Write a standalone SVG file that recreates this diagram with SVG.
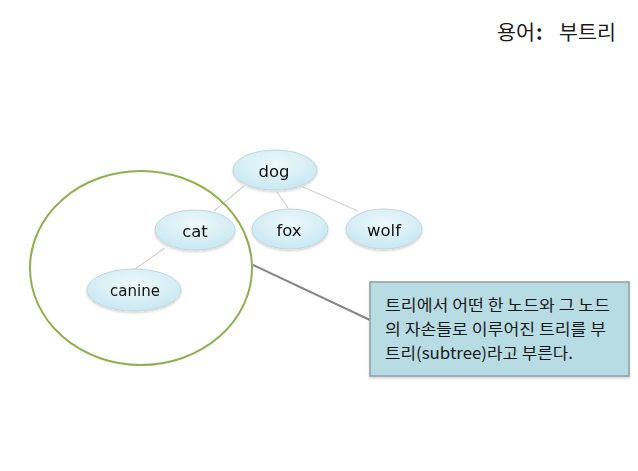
<svg xmlns="http://www.w3.org/2000/svg" width="638" height="471" viewBox="0 0 638 471">
<style>
.node ellipse{fill:url(#ng);stroke:#c5d6db;stroke-width:1}
.lbl{font-family:"DejaVu Sans","Liberation Sans",sans-serif;font-size:16.5px;fill:#111;text-anchor:middle}
.kr{font-family:"Noto Sans CJK KR","Noto Sans",sans-serif;fill:#1a1a1a}
.edge{stroke:#cfd3d4;stroke-width:1.2;fill:none}
</style>
<defs>
<radialGradient id="ng" cx="50%" cy="35%" r="65%">
<stop offset="0" stop-color="#eef9fc"/>
<stop offset="1" stop-color="#c8e8f1"/>
</radialGradient>
<filter id="sh" x="-20%" y="-20%" width="140%" height="150%">
<feDropShadow dx="0" dy="1.5" stdDeviation="1.2" flood-color="#000" flood-opacity="0.18"/>
</filter>
</defs>
<rect width="638" height="471" fill="#ffffff"/>
<text class="kr" font-size="20" y="40"><tspan x="497" textLength="38" lengthAdjust="spacingAndGlyphs">용어</tspan><tspan x="536" font-weight="bold">:</tspan><tspan x="559" textLength="57" lengthAdjust="spacingAndGlyphs">부트리</tspan></text>
<g id="connectors">
<line class="edge" x1="244" y1="186" x2="214" y2="211"/>
<line class="edge" x1="277" y1="192" x2="288" y2="208"/>
<line class="edge" x1="303" y1="187" x2="358" y2="211"/>
<line class="edge" x1="165" y1="248" x2="135" y2="269"/>
<line x1="253" y1="265" x2="370" y2="320" stroke="#888" stroke-width="2"/>
</g>
<g id="subtree-circle">
<ellipse cx="141" cy="268" rx="111" ry="97" fill="none" stroke="#8db14c" stroke-width="2"/>
</g>
<g id="node-dog" class="node" filter="url(#sh)"><ellipse cx="275" cy="170" rx="42" ry="20"/><text class="lbl" x="274" y="177">dog</text></g>
<g id="node-cat" class="node" filter="url(#sh)"><ellipse cx="195" cy="230" rx="40" ry="20"/><text class="lbl" x="195" y="237">cat</text></g>
<g id="node-fox" class="node" filter="url(#sh)"><ellipse cx="290" cy="229" rx="38" ry="20"/><text class="lbl" x="289" y="236">fox</text></g>
<g id="node-wolf" class="node" filter="url(#sh)"><ellipse cx="384" cy="229" rx="38" ry="20"/><text class="lbl" x="384" y="236">wolf</text></g>
<g id="node-canine" class="node" filter="url(#sh)"><ellipse cx="134" cy="290" rx="47" ry="21"/><text class="lbl" x="135" y="296" style="font-size:15px">canine</text></g>
<g id="callout">
<rect x="370" y="282" width="259" height="94" fill="#b7dce3" stroke="#8c9ea3" stroke-width="1.5" filter="url(#sh)"/>
<text class="kr" font-size="16">
<tspan x="385" y="311" textLength="225" lengthAdjust="spacingAndGlyphs">트리에서 어떤 한 노드와 그 노드</tspan>
<tspan x="385" y="335" textLength="221" lengthAdjust="spacingAndGlyphs">의 자손들로 이루어진 트리를 부</tspan>
<tspan x="385" y="359" textLength="188" lengthAdjust="spacingAndGlyphs">트리(subtree)라고 부른다.</tspan>
</text>
</g>
</svg>
